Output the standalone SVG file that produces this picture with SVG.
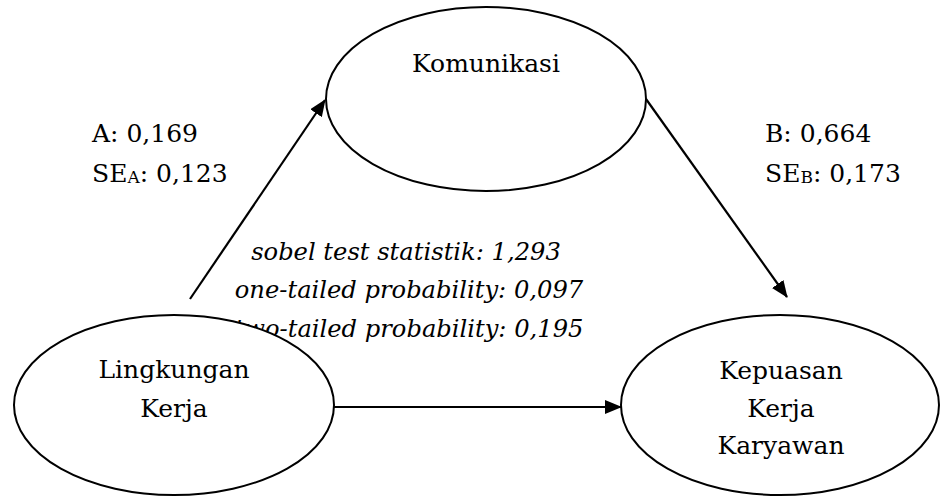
<svg xmlns="http://www.w3.org/2000/svg" width="940" height="496" viewBox="0 0 940 496">
  <style>
    .node { fill: #fff; stroke: #000; stroke-width: 2; }
    .lbl { font-family: "DejaVu Serif", "Liberation Serif", serif; font-size: 25px; fill: #000; }
    .mid { text-anchor: middle; }
    .it { font-style: italic; font-size: 24.2px; }
    .edge { stroke: #000; stroke-width: 2.2; fill: none; marker-end: url(#head); }
    .sub { font-size: 17px; }
  </style>
  <defs>
    <marker id="head" viewBox="0 0 17 14" refX="16" refY="7" markerWidth="17" markerHeight="14" markerUnits="userSpaceOnUse" orient="auto">
      <path d="M0,0 L17,7 L0,14 Z" fill="#000"/>
    </marker>
  </defs>

  <!-- path coefficients -->
  <g id="coef-a">
    <text class="lbl" x="92" y="142">A: 0,169</text>
    <text class="lbl" x="92" y="182">SE<tspan class="sub" dy="1">A</tspan><tspan dy="-1">: 0,123</tspan></text>
  </g>
  <g id="coef-b">
    <text class="lbl" x="765" y="142">B: 0,664</text>
    <text class="lbl" x="765" y="182">SE<tspan class="sub" dy="1">B</tspan><tspan dy="-1">: 0,173</tspan></text>
  </g>

  <!-- Sobel test result -->
  <g id="sobel">
    <text class="lbl mid it" x="406" y="260">sobel test statistik: 1,293</text>
    <text class="lbl mid it" x="409" y="298">one-tailed probability: 0,097</text>
    <text class="lbl mid it" x="409" y="337">two-tailed probability: 0,195</text>
  </g>

  <!-- connectors -->
  <g id="edges">
    <line class="edge" x1="190" y1="299" x2="325" y2="100"/>
    <line class="edge" x1="646" y1="99" x2="787" y2="297"/>
    <line class="edge" x1="334" y1="407" x2="621" y2="407"/>
  </g>

  <g id="komunikasi">
    <ellipse class="node" cx="486" cy="99" rx="160" ry="92"/>
    <text class="lbl mid" x="486" y="72">Komunikasi</text>
  </g>

  <g id="lingkungan-kerja">
    <ellipse class="node" cx="174" cy="405" rx="160" ry="90"/>
    <text class="lbl mid" x="174" y="378">Lingkungan</text>
    <text class="lbl mid" x="174" y="417">Kerja</text>
  </g>

  <g id="kepuasan-kerja-karyawan">
    <ellipse class="node" cx="780" cy="405" rx="159" ry="90"/>
    <text class="lbl mid" x="781" y="379">Kepuasan</text>
    <text class="lbl mid" x="781" y="417">Kerja</text>
    <text class="lbl mid" x="781" y="454">Karyawan</text>
  </g>
</svg>
